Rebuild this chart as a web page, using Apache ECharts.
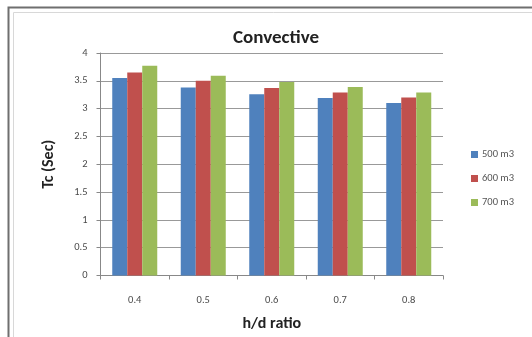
<!DOCTYPE html>
<html>
<head>
<meta charset="utf-8">
<script src="https://cdn.jsdelivr.net/npm/echarts@6/dist/echarts.min.js"></script>
<style>
  html, body { margin: 0; padding: 0; background: #fff; overflow: hidden; }
  #chart { width: 532px; height: 337px; }
</style>
</head>
<body>
<div id="chart"></div>
<script>
// h/d ratio categories and convective period Tc (s) per tank volume
const categories = ['0.4', '0.5', '0.6', '0.7', '0.8'];
const seriesNames = ['500 m3', '600 m3', '700 m3'];
const tc500 = [3.55, 3.38, 3.26, 3.19, 3.10];
const tc600 = [3.65, 3.50, 3.37, 3.29, 3.20];
const tc700 = [3.77, 3.59, 3.48, 3.39, 3.29];
const colors = ['#4F81BD', '#C0504D', '#9BBB59'];

const chart = echarts.init(document.getElementById('chart'), null, { renderer: 'canvas' });

const font = 'Calibri, Carlito, "Open Sans", "DejaVu Sans", sans-serif';

function barSeries(name, data, color) {
  return {
    name: name,
    type: 'bar',
    data: data,
    barWidth: 15,
    barGap: '0%',
    itemStyle: { color: color },
    emphasis: { disabled: true }
  };
}

chart.setOption({
  animation: false,
  backgroundColor: '#ffffff',
  graphic: [
    {
      type: 'rect',
      shape: { x: 8.5, y: 7.5, width: 560, height: 360 },
      style: { fill: 'none', stroke: '#6f6f6f', lineWidth: 2 },
      silent: true
    },
    {
      type: 'rect',
      shape: { x: 13.5, y: 12.5, width: 560, height: 360 },
      style: { fill: 'none', stroke: '#d8d8d8', lineWidth: 1 },
      silent: true
    }
  ],
  title: {
    text: 'Convective',
    left: 271,
    textAlign: 'center',
    top: 24,
    textStyle: { fontFamily: font, fontSize: 19, fontWeight: 'bold', color: '#222' }
  },
  legend: {
    orient: 'vertical',
    left: 466,
    top: 144,
    itemWidth: 7,
    itemHeight: 7,
    itemGap: 13,
    icon: 'rect',
    data: seriesNames,
    textStyle: { fontFamily: font, fontSize: 10.5, color: '#555', padding: [0, 0, 0, -1] }
  },
  grid: {
    left: 100.5,
    right: 89,
    top: 53,
    bottom: 61.5,
    outerBoundsMode: 'none',
    containLabel: false
  },
  xAxis: {
    type: 'category',
    data: categories,
    name: 'h/d ratio',
    nameLocation: 'middle',
    nameGap: 40,
    nameTextStyle: { fontFamily: font, fontSize: 16, fontWeight: 'bold', color: '#222' },
    axisLine: { lineStyle: { color: '#888', width: 1 } },
    axisTick: { show: true, alignWithLabel: false, length: 4, lineStyle: { color: '#888' } },
    axisLabel: { fontFamily: font, fontSize: 10.5, color: '#4a4a4a', margin: 19 }
  },
  yAxis: {
    type: 'value',
    min: 0,
    max: 4,
    interval: 0.5,
    name: 'Tc (Sec)',
    nameLocation: 'middle',
    nameGap: 44,
    nameRotate: 90,
    nameTextStyle: { fontFamily: font, fontSize: 16, fontWeight: 'bold', color: '#222' },
    axisLine: { show: true, lineStyle: { color: '#888', width: 1 } },
    axisTick: { show: true, length: 4, lineStyle: { color: '#888' } },
    axisLabel: { fontFamily: font, fontSize: 10.5, color: '#4a4a4a', margin: 13 },
    splitLine: { show: true, lineStyle: { color: '#999', width: 1 } }
  },
  series: [
    barSeries(seriesNames[0], tc500, colors[0]),
    barSeries(seriesNames[1], tc600, colors[1]),
    barSeries(seriesNames[2], tc700, colors[2])
  ]
});
</script>
</body>
</html>
